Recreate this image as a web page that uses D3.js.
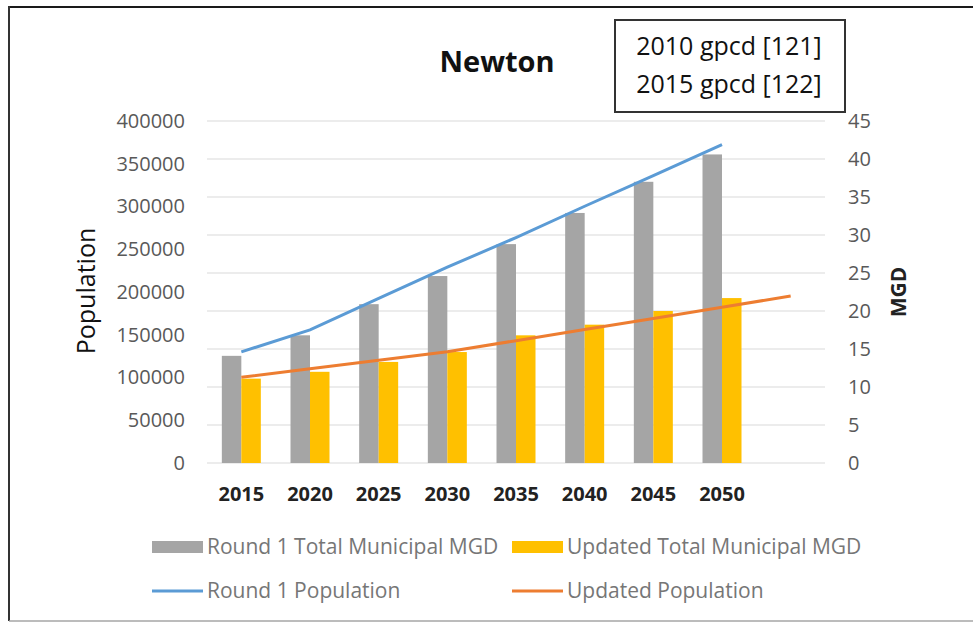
<!DOCTYPE html>
<html>
<head>
<meta charset="utf-8">
<script src="https://cdn.jsdelivr.net/npm/d3@7"></script>
<style>
  body { margin: 0; background: #fff; }
  svg { display: block; font-family: "Open Sans", sans-serif; }
</style>
</head>
<body>
<div class="wrapper"></div>
<script>
// data
var years      = ['2015', '2020', '2025', '2030', '2035', '2040', '2045', '2050', ''];
var round1MGD  = [14.1, 16.8, 20.9, 24.6, 28.8, 32.9, 37.0, 40.6];
var updatedMGD = [11.1, 12.0, 13.3, 14.6, 16.8, 18.2, 20.0, 21.7];
var round1Pop  = [130000, 155600, 192600, 229000, 263700, 300300, 336100, 372400];
var updatedPop = [100200, 110300, 120200, 130200, 143100, 156200, 169100, 182200, 195300];
var popTicks   = [0, 50000, 100000, 150000, 200000, 250000, 300000, 350000, 400000];
var mgdTicks   = [0, 5, 10, 15, 20, 25, 30, 35, 40, 45];
var gpcdLines  = ['2010 gpcd [121]', '2015 gpcd [122]'];

var width = 973, height = 623;
var plot = {left: 207, right: 825, top: 121, bottom: 463};

var svg = d3.select('.wrapper').append('svg')
            .attr('width', width)
            .attr('height', height);

svg.append('rect').attr('width', width).attr('height', height).attr('fill', '#fff');

// frame of the screenshot
svg.append('line').attr('x1', 8).attr('x2', width).attr('y1', 7).attr('y2', 7)
   .attr('stroke', '#1a1a1a').attr('stroke-width', 2);
svg.append('line').attr('x1', 9).attr('x2', 9).attr('y1', 6).attr('y2', 621)
   .attr('stroke', '#333').attr('stroke-width', 2);
svg.append('line').attr('x1', 9).attr('x2', width).attr('y1', 621).attr('y2', 621)
   .attr('stroke', '#a6a6a6').attr('stroke-width', 1.5);

var x = d3.scaleBand().domain(years).range([plot.left, plot.right]);
var bw = x.bandwidth();
var sub = d3.scaleBand().domain(['r1', 'up']).range([bw / 2 - 19.5, bw / 2 + 19.5]);

var yL = d3.scaleLinear().domain([0, 400000]).range([plot.bottom, plot.top]);
var yR = d3.scaleLinear().domain([0, 45]).range([plot.bottom, plot.top]);

// gridlines
svg.append('g').selectAll('line')
   .data(mgdTicks)
   .enter().append('line')
   .attr('x1', plot.left).attr('x2', plot.right)
   .attr('y1', d => yR(d)).attr('y2', d => yR(d))
   .attr('stroke', '#d9d9d9').attr('stroke-width', 1);

// bars (right axis)
var bars = svg.append('g');
bars.selectAll('.r1').data(round1MGD).enter().append('rect')
    .attr('class', 'r1')
    .attr('x', (d, i) => x(years[i]) + sub('r1'))
    .attr('width', sub.bandwidth())
    .attr('y', d => yR(d))
    .attr('height', d => yR(0) - yR(d))
    .attr('fill', '#a5a5a5');
bars.selectAll('.up').data(updatedMGD).enter().append('rect')
    .attr('class', 'up')
    .attr('x', (d, i) => x(years[i]) + sub('up'))
    .attr('width', sub.bandwidth())
    .attr('y', d => yR(d))
    .attr('height', d => yR(0) - yR(d))
    .attr('fill', '#ffc000');

// lines (left axis)
var line = d3.line()
             .x((d, i) => x(years[i]) + bw / 2)
             .y(d => yL(d));
svg.append('path').datum(round1Pop).attr('d', line)
   .attr('fill', 'none').attr('stroke', '#5b9bd5').attr('stroke-width', 3);
svg.append('path').datum(updatedPop).attr('d', line)
   .attr('fill', 'none').attr('stroke', '#ed7d31').attr('stroke-width', 3);

// axes
var axL = svg.append('g').attr('transform', `translate(${plot.left},0)`)
             .call(d3.axisLeft(yL).tickValues(popTicks).tickSize(0).tickPadding(22).tickFormat(d3.format('d')));
var axR = svg.append('g').attr('transform', `translate(${plot.right},0)`)
             .call(d3.axisRight(yR).tickValues(mgdTicks).tickSize(0).tickPadding(23));
var axB = svg.append('g').attr('transform', `translate(0,${plot.bottom})`)
             .call(d3.axisBottom(x).tickSize(0));
[axL, axR, axB].forEach(a => {
  a.select('.domain').remove();
  a.selectAll('text').attr('font-family', '"Open Sans", sans-serif').attr('font-size', 20).attr('fill', '#595959');
});
axB.selectAll('text').attr('y', 38).attr('dy', 0)
   .attr('font-weight', 'bold').attr('fill', '#222');

// axis titles
svg.append('text').attr('transform', 'translate(95,291) rotate(-90)')
   .attr('text-anchor', 'middle').attr('font-size', 25).attr('fill', '#111')
   .text('Population');
svg.append('text').attr('transform', 'translate(906,292) rotate(-90)')
   .attr('text-anchor', 'middle').attr('font-size', 21).attr('font-weight', 'bold').attr('fill', '#222')
   .text('MGD');

// title
svg.append('text').attr('x', 497).attr('y', 72)
   .attr('text-anchor', 'middle').attr('font-size', 29).attr('font-weight', 'bold').attr('fill', '#111')
   .text('Newton');

// gpcd box
svg.append('rect').attr('x', 615).attr('y', 20).attr('width', 230).attr('height', 92)
   .attr('fill', '#fff').attr('stroke', '#333').attr('stroke-width', 2);
svg.append('g').selectAll('text')
   .data(gpcdLines).enter().append('text')
   .attr('x', 729).attr('y', (d, i) => 55 + i * 38)
   .attr('text-anchor', 'middle').attr('font-size', 25).attr('fill', '#111')
   .text(d => d);

// legend
var legend = [
  {name: 'Round 1 Total Municipal MGD', color: '#a5a5a5', type: 'bar', x: 152, y: 547},
  {name: 'Updated Total Municipal MGD', color: '#ffc000', type: 'bar', x: 512, y: 547},
  {name: 'Round 1 Population', color: '#5b9bd5', type: 'line', x: 152, y: 591},
  {name: 'Updated Population', color: '#ed7d31', type: 'line', x: 512, y: 591}
];
var lg = svg.append('g').selectAll('g').data(legend).enter().append('g')
            .attr('transform', d => `translate(${d.x},${d.y})`);
lg.filter(d => d.type === 'bar').append('rect')
  .attr('x', 0).attr('y', -6).attr('width', 51).attr('height', 12).attr('fill', d => d.color);
lg.filter(d => d.type === 'line').append('line')
  .attr('x1', 0).attr('x2', 51).attr('y1', 0).attr('y2', 0)
  .attr('stroke', d => d.color).attr('stroke-width', 3);
lg.append('text').attr('x', 55).attr('y', 0).attr('dy', '0.35em')
  .attr('font-size', 21).attr('fill', '#767676')
  .text(d => d.name);
</script>
</body>
</html>
